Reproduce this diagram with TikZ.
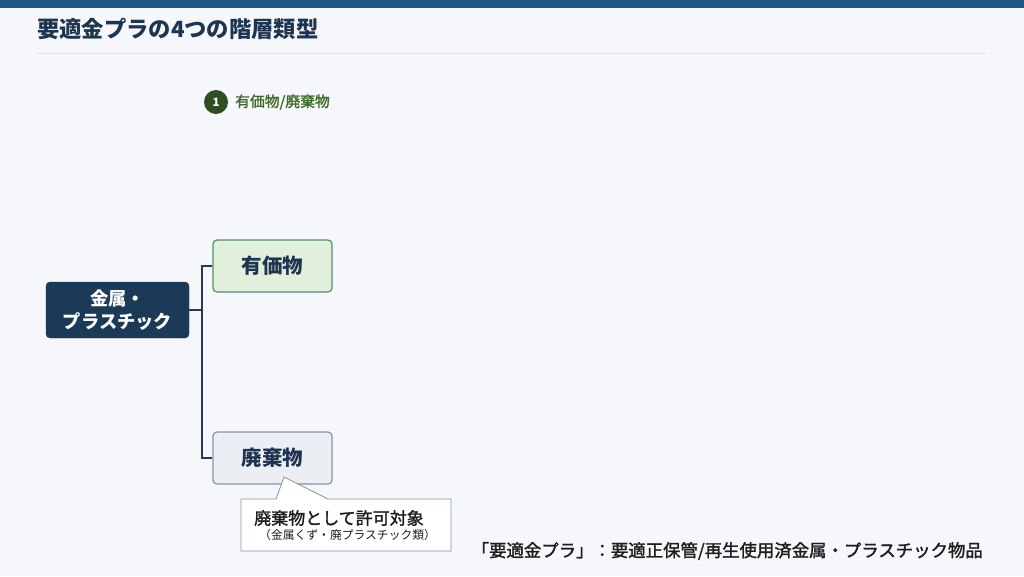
\documentclass[tikz,border=0pt]{standalone}
\usepackage{fontspec}
\setmainfont{Noto Sans CJK JP}
\newfontfamily\medf{Noto Sans CJK JP}[FakeBold=1.6]
\definecolor{bgc}{HTML}{F5F7FB}
\definecolor{barc}{HTML}{1F5A85}
\definecolor{titlec}{HTML}{1E3550}
\definecolor{sepc}{HTML}{DDE3E8}
\definecolor{rootc}{HTML}{1B3A57}
\definecolor{linec}{HTML}{24395F}
\definecolor{grnfill}{HTML}{E2EFDA}
\definecolor{grnbd}{HTML}{4E8F72}
\definecolor{grayfill}{HTML}{EBEEF2}
\definecolor{graybd}{HTML}{8594A8}
\definecolor{badgec}{HTML}{2F4F22}
\definecolor{labc}{HTML}{3F6A2A}
\definecolor{txtc}{HTML}{1E1E1E}
\tikzset{
  rootbox/.style={draw=rootc,fill=rootc,rounded corners=4pt,minimum width=143pt,minimum height=56pt,text=white,font=\bfseries\fontsize{18.3}{23}\selectfont,align=center,inner sep=0pt},
  childbox/.style={rounded corners=4pt,minimum width=119pt,minimum height=52pt,text=titlec,font=\bfseries\fontsize{20.5}{24}\selectfont,inner sep=0pt,line width=1.2pt},
  conn/.style={draw=linec,line width=1.8pt},
}
\begin{document}
\begin{tikzpicture}[x=1pt,y=-1pt]
\fill[bgc] (0,0) rectangle (1024,576);
\useasboundingbox (0,0) rectangle (1024,576);
\fill[barc] (0,0) rectangle (1024,8);
\node[anchor=west,text=titlec,font=\bfseries\fontsize{22.3}{26}\selectfont,inner sep=0pt] (title) at (37,29) {要適金プラの4つの階層類型};
\draw[sepc,line width=1pt] (37,53) -- (986,53);
\node[circle,fill=badgec,text=white,minimum size=24pt,inner sep=0pt,font=\bfseries\fontsize{11.5}{13}\selectfont] (badge) at (216,102) {1};
\node[anchor=west,text=labc,font=\medf\fontsize{14.8}{17}\selectfont,inner sep=0pt] (lab) at (235,102) {有価物/廃棄物};
\node[rootbox] (root) at (117.5,310) {金属・\\プラスチック};
\node[childbox,draw=grnbd,fill=grnfill] (c1) at (272.5,266) {有価物};
\node[childbox,draw=graybd,fill=grayfill] (c2) at (272.5,458) {廃棄物};
\coordinate (jn) at (202,310);
\draw[conn] (root.east) -- (jn);
\draw[conn] (c1.west) -| (jn) |- (c2.west);
\draw[draw=graybd,fill=white,line width=0.8pt] (241,499) -- (276,499) -- (284,477) -- (328,499) -- (451,499) -- (451,551) -- (241,551) -- cycle;
\node[anchor=west,text=txtc,font=\medf\fontsize{17}{19}\selectfont,inner sep=0pt] (cm) at (254,518) {廃棄物として許可対象};
\node[anchor=west,text=txtc,font=\fontsize{11.8}{13}\selectfont,inner sep=0pt] (cs) at (259,535) {（金属くず・廃プラスチック類）};
\node[anchor=east,text=txtc,font=\medf\fontsize{17.4}{19}\selectfont,inner sep=0pt] (foot) at (983,551) {「要適金プラ」：要適正保管/再生使用済金属・プラスチック物品};
\end{tikzpicture}
\end{document}
